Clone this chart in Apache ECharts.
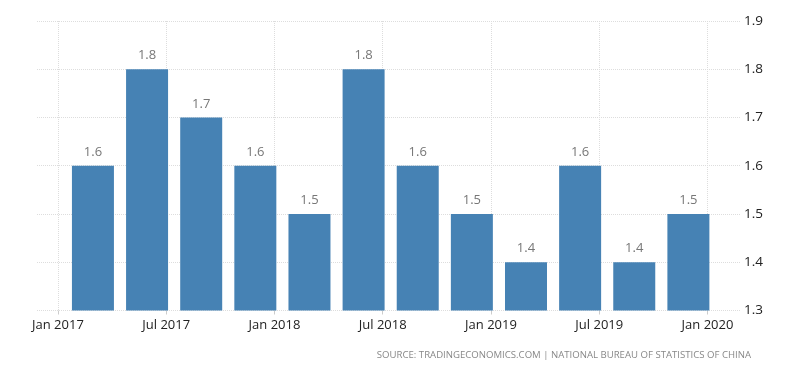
<!DOCTYPE html>
<html><head><meta charset="utf-8">
<script src="https://cdn.jsdelivr.net/npm/echarts@6/dist/echarts.min.js"></script>
<style>html,body{margin:0;padding:0;background:#fff}#c{width:800px;height:373px}</style>
</head><body><div id="c"></div>
<script>
// Quarterly data (date of plotted point, year-month)
const quarters = ['2017-03','2017-06','2017-09','2017-12','2018-03','2018-06','2018-09','2018-12','2019-03','2019-06','2019-09','2019-12'];
const values = [1.6, 1.8, 1.7, 1.6, 1.5, 1.8, 1.6, 1.5, 1.4, 1.6, 1.4, 1.5];
const tickLabels = ['Jan 2017','Jul 2017','Jan 2018','Jul 2018','Jan 2019','Jul 2019','Jan 2020'];
const yTicks = [1.3, 1.4, 1.5, 1.6, 1.7, 1.8, 1.9];
const sourceText = 'SOURCE: TRADINGECONOMICS.COM | NATIONAL BUREAU OF STATISTICS OF CHINA';

// month offsets from Jan 2017 (day 1 of month => offset)
function monthOffset(s){const [y,m]=s.split('-').map(Number);return (y-2017)*12+(m-1)-0.06;}
const tickVals = tickLabels.map((_,i)=>i*6);
const data = quarters.map((q,i)=>[monthOffset(q), values[i]]);

const chart = echarts.init(document.getElementById('c'));
chart.setOption({
  animation:false,
  textStyle:{fontFamily:'Open Sans'},
  grid:{left:37,right:60,top:21,bottom:62.5,containLabel:false},
  xAxis:{
    type:'value', min:-1.16, max:37.8,
    axisLine:{show:false},
    axisTick:{show:true, customValues:tickVals, length:4, lineStyle:{color:'#ccc'}},
    axisLabel:{customValues:tickVals, color:'#222', fontSize:13, margin:8,
      formatter:v=>tickLabels[Math.round(v/6)]},
    splitLine:{show:true, lineStyle:{color:'#ddd', type:'dotted'}}
  },
  yAxis:{
    type:'value', position:'right', min:yTicks[0], max:yTicks[yTicks.length-1], interval:0.1,
    axisLine:{show:false}, axisTick:{show:false},
    axisLabel:{color:'#222', fontSize:13.5, margin:4, formatter:v=>v.toFixed(1)},
    splitLine:{show:true, lineStyle:{color:'#ddd', type:'dotted'}}
  },
  series:[{
    type:'bar', data:data, barWidth:42,
    itemStyle:{color:'#4682B4'},
    label:{show:true, position:'top', distance:7, color:'#777', fontSize:13, formatter:p=>p.value[1].toFixed(1)}
  }],
  graphic:[{type:'text', right:49, top:350, style:{text:sourceText, fill:'#888', font:'9.6px "Open Sans"'}}]
});
</script></body></html>
